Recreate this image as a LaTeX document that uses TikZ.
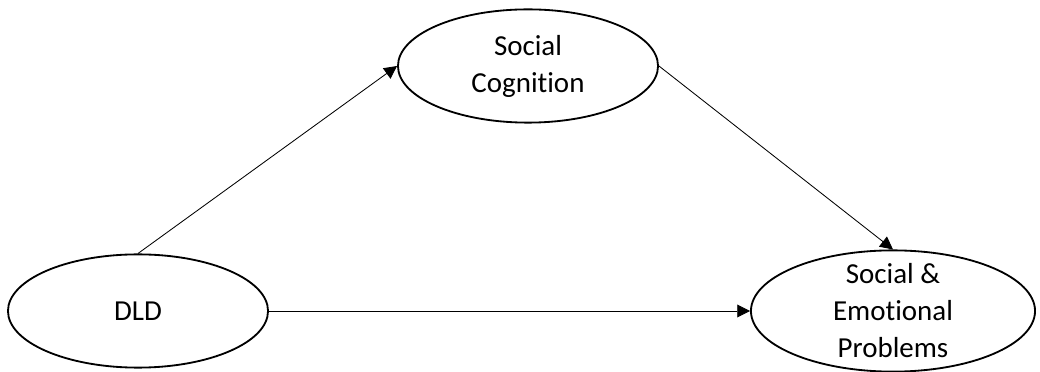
\documentclass[tikz,border=0pt]{standalone}
\usepackage{fontspec}
\setmainfont[Ligatures=NoCommon]{Carlito}
\usetikzlibrary{shapes.geometric,arrows.meta}

\begin{document}
\begin{tikzpicture}[x=0.025cm, y=-0.025cm,
		blob/.style={draw, ellipse, line width=1.3pt, inner sep=0pt, align=center, font=\fontsize{20.6}{26.3}\selectfont},
		link/.style={line width=0.6pt, -{Triangle[length=0.32cm, width=0.32cm]}}]
		\useasboundingbox (0,0) rectangle (1040,372);
		\node[blob, minimum width=6.5cm, minimum height=2.83cm] (dld) at (138,311) {DLD};
		\node[blob, minimum width=6.5cm, minimum height=2.83cm] (cog) at (528,66) {Social\\Cognition};
		\node[blob, minimum width=7.1cm, minimum height=3.03cm, inner ysep=-0.25cm] (sep) at (893,311) {Social \&\\Emotional\\Problems};
		\draw[link] (dld.north) -- (cog.west);
		\draw[link] (cog.east) -- (sep.north);
		\draw[link] (dld.east) -- (sep.west);
	\end{tikzpicture}
\end{document}
